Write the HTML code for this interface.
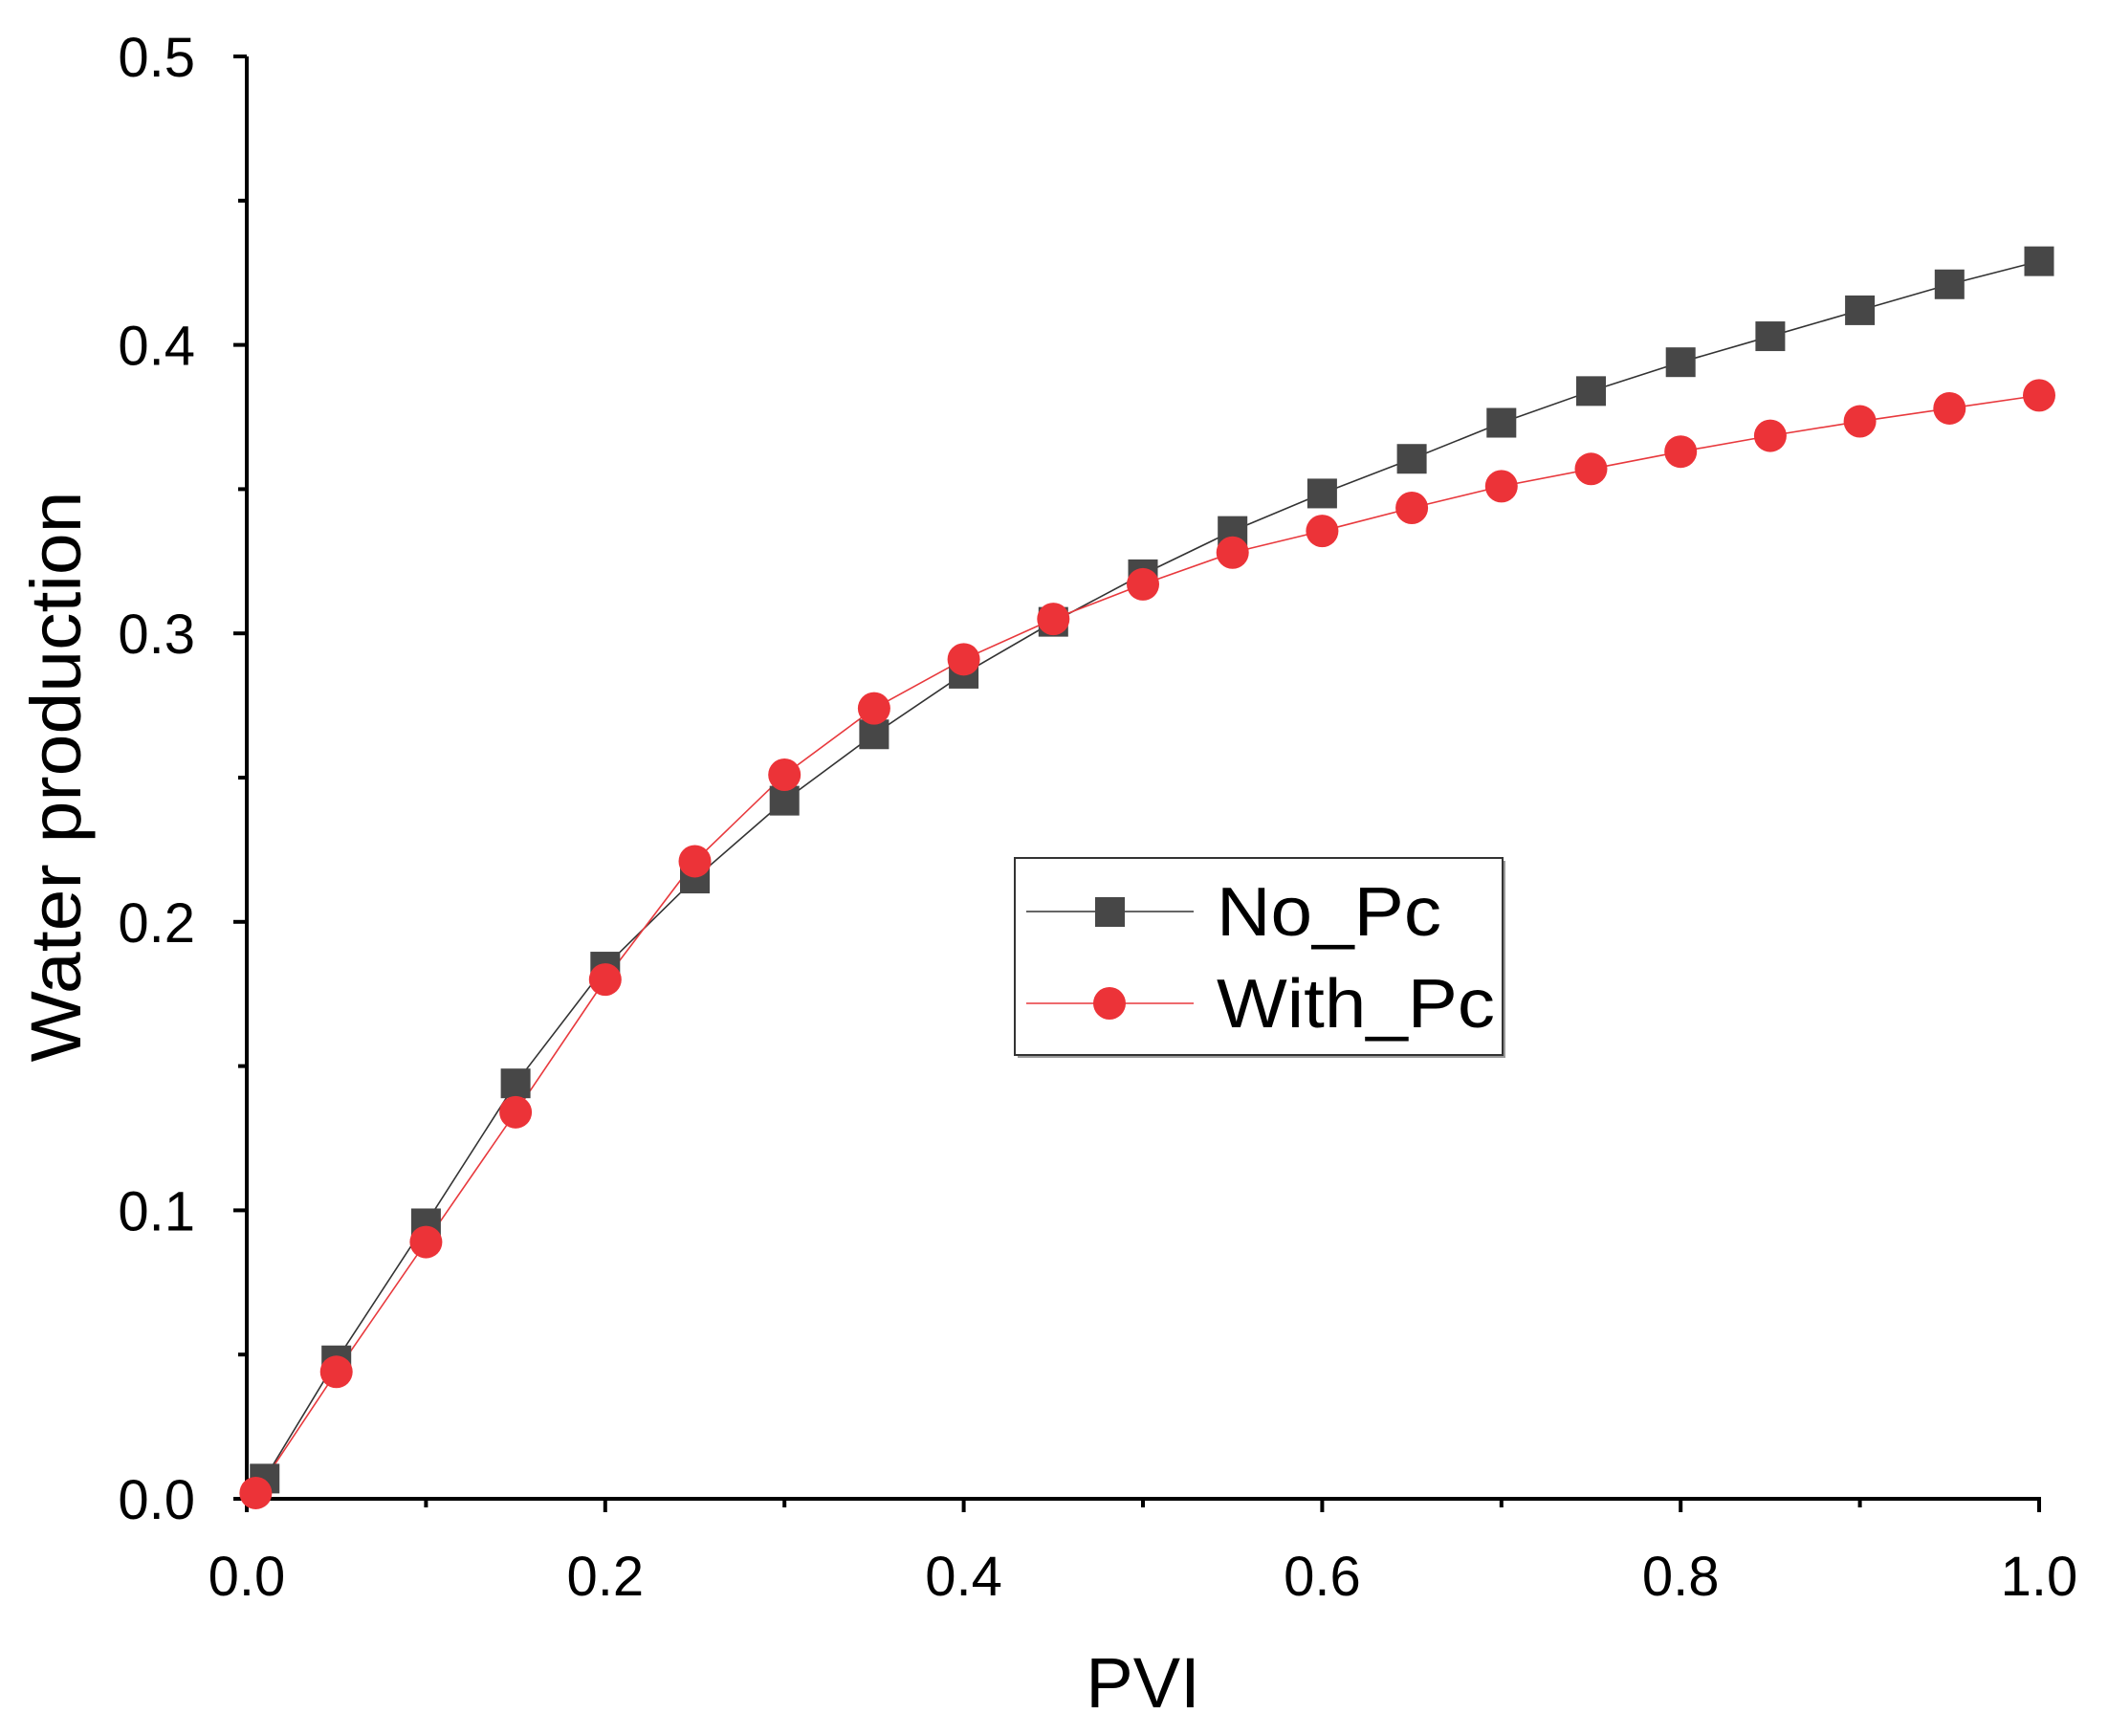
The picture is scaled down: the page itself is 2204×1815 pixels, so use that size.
<!DOCTYPE html>
<html><head><meta charset="utf-8"><style>
html,body{margin:0;padding:0;background:#fff;}
svg{display:block;font-family:"Liberation Sans",Arial,sans-serif;}
</style></head><body>
<svg id="chart" width="2204" height="1815" viewBox="0 0 2204 1815">
<g id="axes"></g>
<g id="series"></g>
<text x="1195" y="1785" font-size="74" text-anchor="middle">PVI</text>
<text transform="translate(84,812) rotate(-90)" font-size="74" text-anchor="middle" textLength="597" lengthAdjust="spacingAndGlyphs">Water production</text>
<g>
<rect x="1064" y="900" width="510" height="206" fill="#9a9a9a"/>
<rect x="1061" y="897" width="510" height="206" fill="#fff" stroke="#333" stroke-width="2"/>
<g>
<line x1="1073" y1="953" x2="1248" y2="953" stroke="#333" stroke-width="1.6"/>
<rect x="1145" y="938" width="31" height="31" fill="#474747"/>
<text x="1272" y="978" font-size="72" textLength="235" lengthAdjust="spacingAndGlyphs">No_Pc</text></g>
<g>
<line x1="1073" y1="1049" x2="1248" y2="1049" stroke="#e8393d" stroke-width="1.6"/>
<circle cx="1160" cy="1049" r="17" fill="#ec3338"/>
<text x="1272" y="1074" font-size="72" textLength="291" lengthAdjust="spacingAndGlyphs">With_Pc</text></g>
</g>
</svg>
<script>
const xNoPc=[0.01,0.05,0.1,0.15,0.2,0.25,0.3,0.35,0.4,0.45,0.5,0.55,0.6,0.65,0.7,0.75,0.8,0.85,0.9,0.95,1.0];
const yNoPc=[0.007,0.048,0.0955,0.144,0.1845,0.215,0.242,0.265,0.286,0.304,0.3205,0.3355,0.3485,0.3605,0.373,0.384,0.394,0.403,0.412,0.421,0.429];
const xWithPc=[0.005,0.05,0.1,0.15,0.2,0.25,0.3,0.35,0.4,0.45,0.5,0.55,0.6,0.65,0.7,0.75,0.8,0.85,0.9,0.95,1.0];
const yWithPc=[0.002,0.044,0.089,0.134,0.18,0.221,0.251,0.274,0.291,0.305,0.317,0.328,0.3355,0.3435,0.351,0.357,0.363,0.3685,0.3735,0.378,0.3825];
const xTicks=["0.0","0.2","0.4","0.6","0.8","1.0"];
const yTicks=["0.0","0.1","0.2","0.3","0.4","0.5"];
const X0=258,X1=2132,Y0=1567,Y1=59;
const sx=v=>X0+(v-0)/(1-0)*(X1-X0);
const sy=v=>Y0-(v-0)/(0.5-0)*(Y0-Y1);
const NS="http://www.w3.org/2000/svg";
const axes=document.getElementById('axes'),ser=document.getElementById('series');
function mk(tag,attrs,parent){const e=document.createElementNS(NS,tag);for(const k in attrs)e.setAttribute(k,attrs[k]);parent.appendChild(e);return e;}
let l=mk('line',{x1:X0,y1:Y0+14,x2:X0,y2:Y1,stroke:'#000','stroke-width':4},axes);


l=mk('line',{x1:X0-14,y1:Y0,x2:X1+2,y2:Y0,stroke:'#000','stroke-width':4},axes);


xTicks.forEach((t,i)=>{const v=parseFloat(t);const x=sx(v);
 const tk=mk('line',{x1:x,y1:Y0,x2:x,y2:Y0+14,stroke:'#000','stroke-width':4},axes);
 
 
 const tx=mk('text',{x:x,y:1668,'font-size':58,'text-anchor':'middle'},axes);tx.textContent=t;
 
 
 if(i<xTicks.length-1){const m=sx(v+0.1);const mt=mk('line',{x1:m,y1:Y0,x2:m,y2:Y0+9,stroke:'#000','stroke-width':4},axes);
  
  }
});
yTicks.forEach((t,i)=>{const v=parseFloat(t);const y=sy(v);
 const tk=mk('line',{x1:X0-14,y1:y,x2:X0,y2:y,stroke:'#000','stroke-width':4},axes);
 
 
 const tx=mk('text',{x:204,y:y+21,'font-size':58,'text-anchor':'end'},axes);tx.textContent=t;
 
 
 if(i<yTicks.length-1){const m=sy(v+0.05);const mt=mk('line',{x1:X0-9,y1:m,x2:X0,y2:m,stroke:'#000','stroke-width':4},axes);
  
  }
});
function line(xs,ys,color,name){const p=mk('polyline',{points:xs.map((x,i)=>sx(x)+','+sy(ys[i])).join(' '),fill:'none',stroke:color,'stroke-width':1.6},ser);
 
 }
line(xNoPc,yNoPc,'#333','no-pc-line');
line(xWithPc,yWithPc,'#e8393d','with-pc-line');
xNoPc.forEach((x,i)=>{const r=mk('rect',{x:sx(x)-15.5,y:sy(yNoPc[i])-15.5,width:31,height:31,fill:'#474747'},ser);
 
 });
xWithPc.forEach((x,i)=>{const c=mk('circle',{cx:sx(x),cy:sy(yWithPc[i]),r:17,fill:'#ec3338'},ser);
 
 });
</script>
</body></html>
